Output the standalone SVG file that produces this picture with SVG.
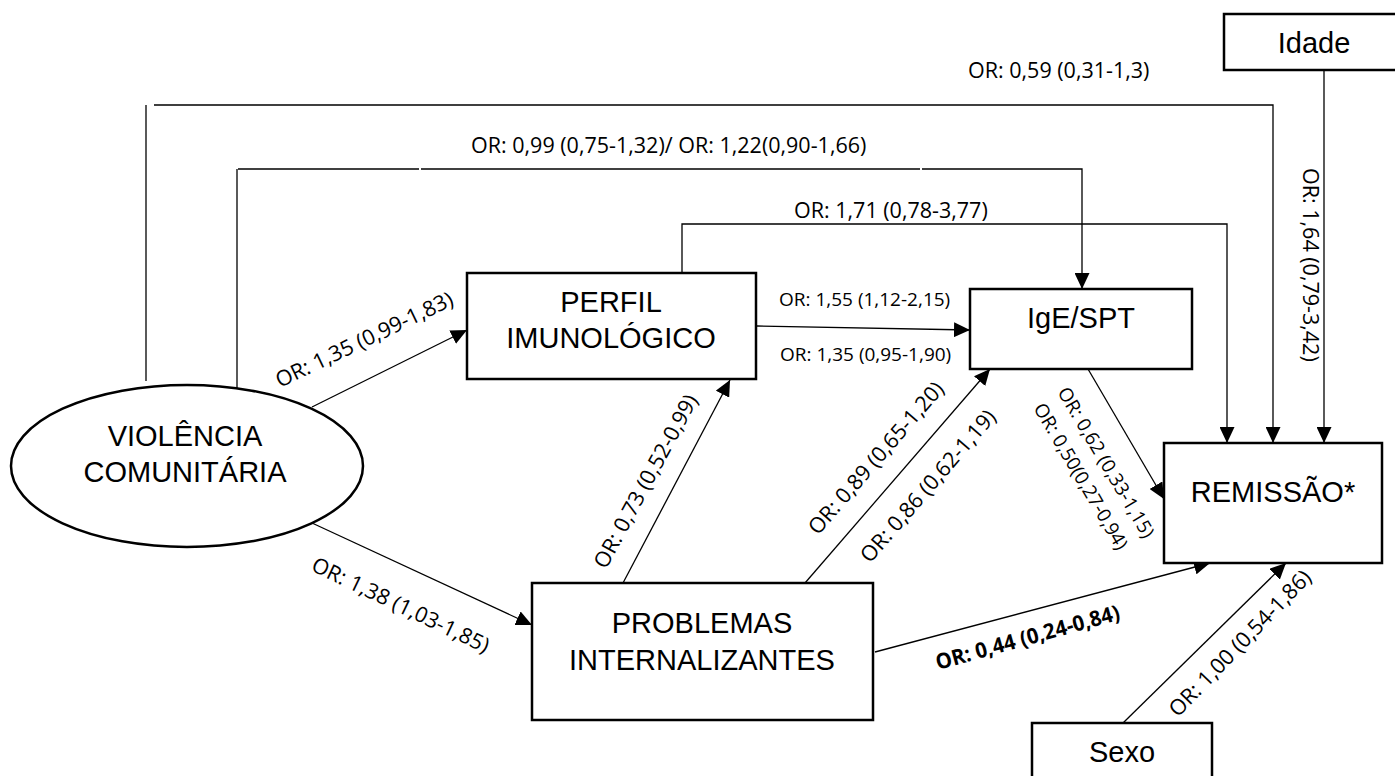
<svg xmlns="http://www.w3.org/2000/svg" width="1395" height="776" viewBox="0 0 1395 776">
<defs>
<marker id="ah" markerUnits="userSpaceOnUse" markerWidth="16" markerHeight="15" refX="16" refY="7.5" orient="auto">
<path d="M0,0 L16,7.5 L0,15 z" fill="#000"/>
</marker>
<style>
.box{fill:#fff;stroke:#000;stroke-width:2.5}
.nt{font-family:"Liberation Sans",Arial,sans-serif;font-size:29px;fill:#000;text-anchor:middle}
.c{fill:none;stroke:#000;stroke-width:1.3}
.a{fill:none;stroke:#000;stroke-width:1.3;marker-end:url(#ah)}
.lb{font-family:"Open Sans",sans-serif;font-size:21.5px;fill:#000}
.ls{font-family:"Open Sans",sans-serif;font-size:19px;fill:#000}
</style>
</defs>
<rect width="1395" height="776" fill="#fff"/>

<g id="connectors">
<line class="c" x1="146" y1="381" x2="146" y2="105"/>
<polyline class="a" points="154,105 1273,105 1273,443"/>
<line class="c" x1="237" y1="390" x2="237" y2="169"/>
<line class="c" x1="238" y1="169" x2="419" y2="169"/>
<line class="c" x1="421" y1="169" x2="920" y2="169"/>
<polyline class="a" points="922,169 1082,169 1082,289"/>
<polyline class="a" points="682,273 682,224 1227,224 1227,443"/>
<line class="a" x1="1324" y1="71" x2="1324" y2="443"/>
<line class="a" x1="312" y1="407" x2="467" y2="330"/>
<line class="a" x1="312" y1="523" x2="532" y2="625"/>
<line class="a" x1="757" y1="326" x2="970" y2="330"/>
<line class="a" x1="623" y1="583" x2="730" y2="380"/>
<line class="a" x1="805" y1="583" x2="990" y2="369"/>
<line class="a" x1="1088" y1="369" x2="1164" y2="499"/>
<line class="a" x1="875" y1="652" x2="1210" y2="563"/>
<line class="a" x1="1123" y1="723" x2="1286" y2="563"/>
</g>

<g id="labels">
<text class="lb" x="968" y="78">OR: 0,59 (0,31-1,3)</text>
<text class="lb" x="471" y="153">OR: 0,99 (0,75-1,32)/ OR: 1,22(0,90-1,66)</text>
<text class="lb" x="794" y="218">OR: 1,71 (0,78-3,77)</text>
<text class="ls" x="779" y="306">OR: 1,55 (1,12-2,15)</text>
<text class="ls" x="780" y="361">OR: 1,35 (0,95-1,90)</text>
<text class="lb" transform="translate(280,388) rotate(-25.5)">OR: 1,35 (0,99-1,83)</text>
<text class="lb" transform="translate(310,570) rotate(25.5)">OR: 1,38 (1,03-1,85)</text>
<text class="lb" transform="translate(606,570) rotate(-61.5)">OR: 0,73 (0,52-0,99)</text>
<text class="lb" transform="translate(818,536) rotate(-49)">OR: 0,89 (0,65-1,20)</text>
<text class="lb" transform="translate(870,564) rotate(-49)">OR: 0,86 (0,62-1,19)</text>
<text class="ls" transform="translate(1057,392) rotate(59.5)">OR: 0,62 (0,33-1,15)</text>
<text class="ls" transform="translate(1033,408) rotate(59.5)">OR: 0,50(0,27-0,94)</text>
<text class="lb" transform="translate(1178,718) rotate(-46)" font-size="20.5">OR: 1,00 (0,54-1,86)</text>
<text class="lb" transform="translate(938,670) rotate(-15.5)" font-weight="bold" font-size="20" textLength="190" lengthAdjust="spacingAndGlyphs">OR: 0,44 (0,24-0,84)</text>
<text class="lb" transform="translate(1303,168) rotate(90)">OR: 1,64 (0,79-3,42)</text>
</g>

<g id="node-violencia">
<ellipse cx="187" cy="466" rx="176" ry="81" fill="#fff" stroke="#000" stroke-width="2.5"/>
<text class="nt" x="185" y="446">VIOLÊNCIA</text>
<text class="nt" x="185" y="482">COMUNITÁRIA</text>
</g>

<g id="node-perfil">
<rect class="box" x="467" y="273" width="289" height="106"/>
<text class="nt" x="611" y="312">PERFIL</text>
<text class="nt" x="611" y="348">IMUNOLÓGICO</text>
</g>

<g id="node-ige">
<rect class="box" x="970" y="289" width="222" height="80"/>
<text class="nt" x="1081" y="328">IgE/SPT</text>
</g>

<g id="node-problemas">
<rect class="box" x="532" y="583" width="341" height="137"/>
<text class="nt" x="702" y="633">PROBLEMAS</text>
<text class="nt" x="702" y="670">INTERNALIZANTES</text>
</g>

<g id="node-remissao">
<rect class="box" x="1164" y="443" width="218" height="120"/>
<text class="nt" x="1273" y="502">REMISSÃO*</text>
</g>

<g id="node-idade">
<rect class="box" x="1224" y="14" width="190" height="56"/>
<text class="nt" x="1314" y="53">Idade</text>
</g>

<g id="node-sexo">
<rect class="box" x="1032" y="723" width="180" height="70"/>
<text class="nt" x="1122" y="762">Sexo</text>
</g>
</svg>
